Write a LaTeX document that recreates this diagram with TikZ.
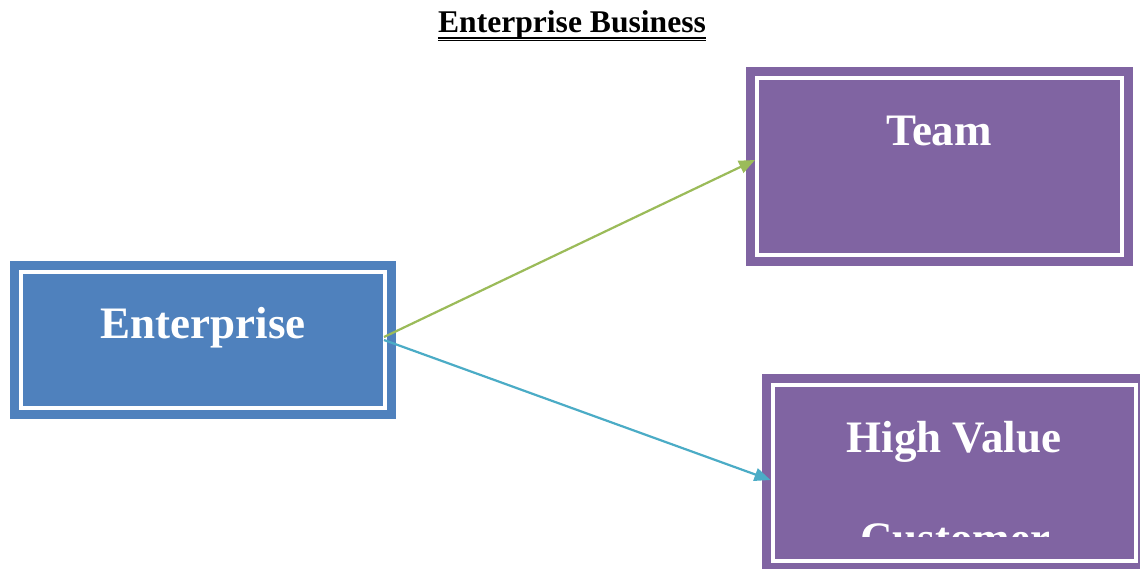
\documentclass[tikz,border=0pt]{standalone}
\usepackage{fontspec}
\setmainfont{Liberation Serif}
\usetikzlibrary{arrows.meta}
\definecolor{entblue}{HTML}{4F81BD}
\definecolor{grpurple}{HTML}{8064A2}
\definecolor{linkgreen}{HTML}{9BBB59}
\definecolor{linkteal}{HTML}{4BACC6}
\tikzset{
  framedbox/.style={rectangle, inner sep=0pt, fill=#1, draw=white, line width=4pt,
    preaction={draw=#1, line width=22pt}},
  boxtext/.style={anchor=base, inner sep=0pt, text=white, font=\fontsize{45}{45}\selectfont\bfseries},
  link/.style={line width=2.2pt, -{Triangle[length=16pt,width=13pt]}},
}
\begin{document}
\begin{tikzpicture}[x=1pt,y=-1pt]
  \clip (0,0) rectangle (1140,568);
  \fill[white] (0,0) rectangle (1140,568);

  % heading with a double rule underneath
  \node[anchor=base, inner sep=0pt, font=\fontsize{31.6}{31.6}\selectfont\bfseries] (title) at (572,32) {Enterprise Business};
  \draw[line width=2pt] ([yshift=-5.5pt]title.base west) -- ([yshift=-5.5pt]title.base east);
  \draw[line width=1pt] ([yshift=-8.7pt]title.base west) -- ([yshift=-8.7pt]title.base east);

  % boxes
  \node[framedbox=entblue, minimum width=364pt, minimum height=136pt] (ent) at (203,340) {};
  \node[framedbox=grpurple, minimum width=365pt, minimum height=177pt] (team) at (939.5,166.5) {};
  \node[framedbox=grpurple, minimum width=363pt, minimum height=176pt] (hv) at (954,473) {};

  % box captions
  \node[boxtext] (enttext) at (203,338) {Enterprise};
  \node[boxtext] (teamtext) at (939,145) {Team};
  \node[boxtext] (hvtext) at (954,452) {High Value};
  \begin{scope}
    \clip (775,387) rectangle (1134,536);
    \node[boxtext] (custtext) at (955,553) {Customer};
  \end{scope}

  % connectors
  \draw[link, draw=linkgreen, fill=linkgreen] ([xshift=-3pt,yshift=3pt]ent.east) -- ([yshift=6.5pt]team.west);
  \draw[link, draw=linkteal, fill=linkteal] ([xshift=-3pt]ent.east) -- ([yshift=-7pt]hv.west);
\end{tikzpicture}
\end{document}
